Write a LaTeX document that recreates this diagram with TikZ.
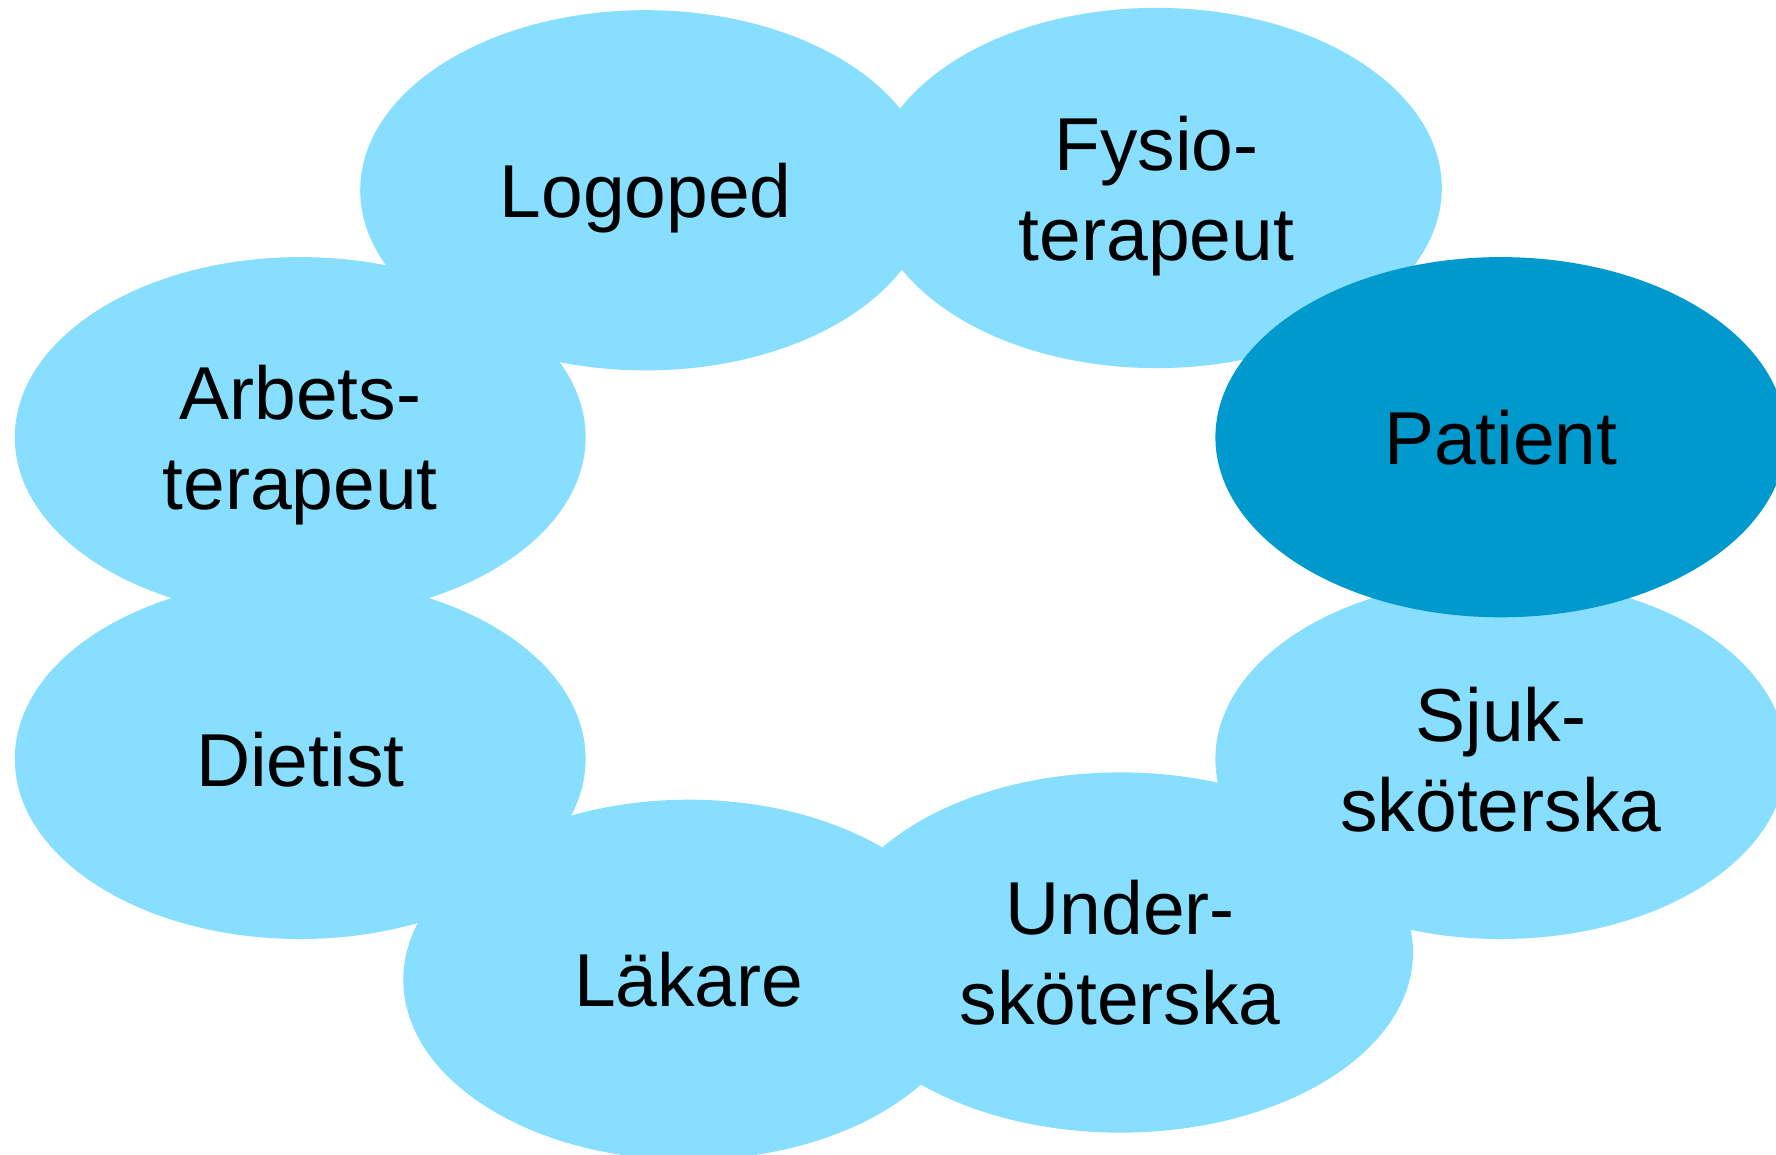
\documentclass[tikz,border=0pt]{standalone}
\usepackage{fontspec}
\setmainfont{Liberation Sans}
\usetikzlibrary{shapes.geometric}
\definecolor{lightb}{RGB}{135,222,255}
\definecolor{darkb}{RGB}{0,153,206}
\begin{document}
\begin{tikzpicture}[x=1pt,y=-1pt,
  blob/.style={ellipse, fill=lightb, draw=none, inner sep=0pt,
    minimum width=570.8pt, minimum height=360.2pt, align=center,
    font=\fontsize{75}{90}\selectfont, text=black, text depth=0pt},
  patientblob/.style={blob, fill=darkb}]
\useasboundingbox (0,0) rectangle (1776,1155);
\clip (0,0) rectangle (1776,1155);
\node[blob] (logoped) at (645.6,190.3) {Logoped};
\node[blob] (fysio) at (1156.4,188.0) {Fysio-\\terapeut};
\node[blob] (arbets) at (300.2,437.2) {Arbets-\\terapeut};
\node[blob] (dietist) at (300.2,758.9) {Dietist};
\node[blob] (lakare) at (688.7,979.8) {Läkare};
\node[blob, minimum width=585.6pt] (under) at (1120.2,952.5) {Under-\\sköterska};
\node[blob] (sjuk) at (1500.8,758.9) {Sjuk-\\sköterska};
\node[patientblob] (patient) at (1500.8,437.2) {Patient};
\end{tikzpicture}
\end{document}
